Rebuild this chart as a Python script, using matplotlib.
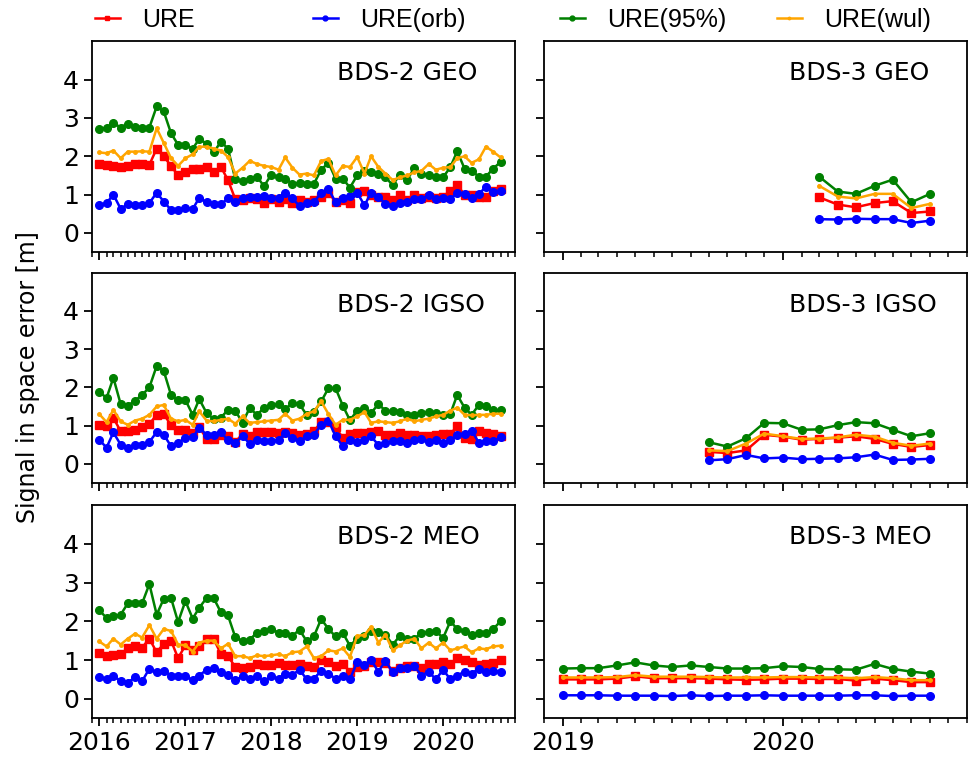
import matplotlib
matplotlib.use("Agg")
import matplotlib.pyplot as plt
import matplotlib.dates as mdates
from matplotlib.lines import Line2D
import pandas as pd

# monthly epochs
months_bds2 = pd.date_range("2016-01-01", "2020-09-01", freq="MS")
months_bds3_geo = pd.date_range("2020-03-01", "2020-09-01", freq="MS")
months_bds3_igso = pd.date_range("2019-09-01", "2020-09-01", freq="MS")
months_bds3_meo = pd.date_range("2019-01-01", "2020-09-01", freq="MS")

# BDS-2 GEO
ure_geo2 = [1.80, 1.77, 1.75, 1.73, 1.75, 1.80, 1.80, 1.78, 2.20, 2.00, 1.75, 1.50,
            1.58, 1.68, 1.68, 1.72, 1.60, 1.72, 1.38, 0.88, 0.85, 0.90, 0.88, 0.78,
            0.88, 0.82, 0.88, 0.78, 0.85, 0.80, 0.85, 0.95, 1.05, 0.82, 0.85, 0.78,
            1.08, 1.10, 0.98, 0.95, 0.95, 0.85, 1.00, 0.85, 0.98, 0.92, 0.95, 0.92,
            0.95, 1.10, 1.25, 1.00, 1.00, 0.95, 0.95, 1.10, 1.15]
orb_geo2 = [0.73, 0.78, 1.00, 0.63, 0.75, 0.72, 0.73, 0.78, 1.05, 0.82, 0.60, 0.60,
            0.65, 0.62, 0.92, 0.80, 0.75, 0.75, 0.90, 0.82, 0.92, 0.95, 0.95, 0.97,
            0.90, 0.92, 1.05, 0.90, 0.70, 0.78, 0.80, 1.05, 1.15, 0.80, 0.92, 0.97,
            1.05, 0.72, 1.05, 0.95, 0.75, 0.70, 0.78, 0.80, 0.88, 0.88, 1.00, 0.88,
            0.92, 0.88, 1.05, 1.02, 0.92, 1.02, 1.20, 1.08, 1.10]
p95_geo2 = [2.72, 2.74, 2.87, 2.75, 2.85, 2.77, 2.73, 2.75, 3.30, 3.17, 2.60, 2.30,
            2.30, 2.20, 2.45, 2.33, 2.10, 2.38, 2.20, 1.40, 1.35, 1.42, 1.47, 1.22,
            1.52, 1.45, 1.42, 1.28, 1.30, 1.28, 1.28, 1.65, 1.83, 1.42, 1.42, 1.18,
            1.50, 1.62, 1.60, 1.55, 1.45, 1.25, 1.52, 1.38, 1.70, 1.55, 1.52, 1.45,
            1.45, 1.72, 2.13, 1.68, 1.62, 1.47, 1.47, 1.68, 1.85]
wul_geo2 = [2.10, 2.08, 2.15, 1.95, 2.12, 2.12, 2.13, 2.12, 2.73, 2.35, 1.95, 1.75,
            1.95, 2.05, 2.25, 2.25, 2.20, 2.15, 1.98, 1.55, 1.70, 1.88, 1.80, 1.75,
            1.72, 1.65, 1.97, 1.70, 1.52, 1.55, 1.50, 1.88, 1.93, 1.50, 1.75, 1.72,
            1.98, 1.55, 2.00, 1.72, 1.55, 1.38, 1.45, 1.50, 1.58, 1.62, 1.80, 1.65,
            1.70, 1.72, 1.95, 2.00, 1.83, 1.92, 2.25, 2.12, 1.97]

# BDS-2 IGSO
ure_igso2 = [1.02, 0.98, 1.20, 0.85, 0.87, 0.89, 0.95, 1.04, 1.28, 1.30, 1.01, 0.89,
             0.89, 0.81, 0.95, 0.66, 0.66, 0.76, 0.72, 0.57, 0.78, 0.72, 0.83, 0.83,
             0.83, 0.81, 0.83, 0.81, 0.76, 0.78, 0.85, 1.09, 1.09, 0.95, 0.68, 0.78,
             0.81, 0.81, 0.83, 0.87, 0.76, 0.76, 0.81, 0.76, 0.76, 0.72, 0.72, 0.75,
             0.78, 0.78, 0.98, 0.68, 0.66, 0.87, 0.81, 0.78, 0.72]
orb_igso2 = [0.63, 0.42, 0.82, 0.50, 0.40, 0.48, 0.50, 0.57, 0.83, 0.76, 0.46, 0.55,
             0.68, 0.69, 0.94, 0.76, 0.74, 0.83, 0.61, 0.55, 0.72, 0.53, 0.62, 0.59,
             0.59, 0.62, 0.81, 0.68, 0.59, 0.72, 0.76, 1.02, 1.13, 0.72, 0.46, 0.61,
             0.57, 0.61, 0.72, 0.49, 0.55, 0.59, 0.59, 0.55, 0.63, 0.66, 0.57, 0.61,
             0.55, 0.61, 0.76, 0.79, 0.87, 0.55, 0.59, 0.59, 0.69]
p95_igso2 = [1.89, 1.72, 2.25, 1.56, 1.52, 1.65, 1.80, 2.00, 2.56, 2.43, 1.80, 1.66,
             1.67, 1.28, 1.69, 1.33, 1.17, 1.21, 1.41, 1.39, 1.07, 1.46, 1.28, 1.46,
             1.53, 1.56, 1.43, 1.59, 1.56, 1.27, 1.35, 1.63, 1.98, 1.98, 1.52, 1.14,
             1.39, 1.47, 1.33, 1.56, 1.39, 1.37, 1.35, 1.27, 1.28, 1.33, 1.35, 1.34,
             1.28, 1.31, 1.80, 1.47, 1.28, 1.54, 1.50, 1.41, 1.40]
wul_igso2 = [1.30, 1.09, 1.41, 1.11, 1.02, 1.13, 1.18, 1.28, 1.50, 1.54, 1.18, 1.11,
             1.15, 1.02, 1.37, 1.13, 1.11, 1.15, 1.18, 1.05, 1.24, 1.07, 1.09, 1.11,
             1.13, 1.15, 1.31, 1.13, 1.18, 1.31, 1.37, 1.63, 1.30, 1.02, 1.15, 1.15,
             1.24, 1.35, 1.07, 1.11, 1.09, 1.07, 1.11, 1.18, 1.11, 1.15, 1.18, 1.24,
             1.28, 1.39, 1.47, 1.28, 1.27, 1.28, 1.28, 1.31, 1.31]

# BDS-2 MEO
ure_meo2 = [1.18, 1.10, 1.12, 1.15, 1.30, 1.35, 1.32, 1.55, 1.20, 1.42, 1.50, 1.05,
            1.38, 1.25, 1.35, 1.55, 1.55, 1.15, 1.10, 0.82, 0.80, 0.82, 0.90, 0.88,
            0.88, 0.92, 0.88, 0.88, 0.90, 0.85, 0.82, 1.00, 0.95, 0.85, 0.90, 0.70,
            0.82, 0.85, 0.95, 0.95, 0.92, 0.72, 0.80, 0.85, 0.85, 0.80, 0.90, 0.90,
            0.95, 0.90, 1.05, 1.00, 0.95, 0.88, 0.90, 0.92, 1.00]
orb_meo2 = [0.55, 0.52, 0.60, 0.45, 0.42, 0.55, 0.45, 0.78, 0.68, 0.72, 0.60, 0.58,
            0.58, 0.48, 0.60, 0.75, 0.80, 0.68, 0.62, 0.48, 0.58, 0.52, 0.58, 0.45,
            0.58, 0.52, 0.65, 0.62, 0.75, 0.50, 0.52, 0.72, 0.65, 0.52, 0.58, 0.50,
            0.95, 0.88, 1.00, 0.70, 0.98, 0.68, 0.80, 0.80, 0.85, 0.60, 0.70, 0.50,
            0.75, 0.50, 0.60, 0.70, 0.65, 0.78, 0.70, 0.72, 0.70]
p95_meo2 = [2.28, 2.09, 2.13, 2.17, 2.46, 2.46, 2.46, 2.96, 2.17, 2.58, 2.60, 1.98,
            2.52, 2.07, 2.35, 2.60, 2.60, 2.23, 2.15, 1.59, 1.48, 1.52, 1.71, 1.74,
            1.80, 1.70, 1.70, 1.63, 1.78, 1.48, 1.61, 2.06, 1.80, 1.61, 1.70, 1.37,
            1.55, 1.62, 1.75, 1.72, 1.65, 1.40, 1.62, 1.55, 1.55, 1.70, 1.72, 1.75,
            1.57, 2.00, 1.80, 1.75, 1.65, 1.70, 1.70, 1.80, 2.00]
wul_meo2 = [1.48, 1.35, 1.55, 1.40, 1.55, 1.68, 1.58, 1.90, 1.55, 1.80, 1.75, 1.40,
            1.38, 1.22, 1.45, 1.50, 1.50, 1.30, 1.42, 1.10, 1.10, 1.05, 1.12, 1.10,
            1.12, 1.15, 1.10, 1.20, 1.22, 1.35, 1.05, 1.10, 1.25, 1.22, 1.30, 1.08,
            1.62, 1.65, 1.85, 1.45, 1.65, 1.25, 1.38, 1.50, 1.55, 1.30, 1.45, 1.30,
            1.45, 1.25, 1.30, 1.35, 1.20, 1.30, 1.28, 1.35, 1.37]

# BDS-3 GEO
ure_geo3 = [0.93, 0.74, 0.67, 0.78, 0.83, 0.52, 0.56]
orb_geo3 = [0.36, 0.35, 0.37, 0.36, 0.36, 0.26, 0.32]
p95_geo3 = [1.47, 1.08, 1.02, 1.23, 1.39, 0.80, 1.02]
wul_geo3 = [1.23, 0.95, 0.90, 1.02, 1.02, 0.65, 0.76]

# BDS-3 IGSO
ure_igso3 = [0.31, 0.28, 0.35, 0.76, 0.71, 0.63, 0.65, 0.68, 0.72, 0.65, 0.52, 0.44, 0.49]
orb_igso3 = [0.09, 0.12, 0.23, 0.14, 0.16, 0.12, 0.13, 0.14, 0.17, 0.24, 0.10, 0.11, 0.13]
p95_igso3 = [0.56, 0.45, 0.67, 1.07, 1.06, 0.89, 0.90, 1.01, 1.09, 1.06, 0.89, 0.72, 0.80]
wul_igso3 = [0.35, 0.33, 0.53, 0.79, 0.72, 0.65, 0.66, 0.69, 0.76, 0.71, 0.55, 0.47, 0.53]

# BDS-3 MEO
ure_meo3 = [0.50, 0.50, 0.50, 0.52, 0.58, 0.53, 0.53, 0.53, 0.52, 0.50, 0.49,
            0.50, 0.52, 0.52, 0.51, 0.51, 0.47, 0.52, 0.48, 0.43, 0.43]
orb_meo3 = [0.09, 0.09, 0.09, 0.08, 0.08, 0.08, 0.07, 0.09, 0.07, 0.08, 0.08,
            0.09, 0.08, 0.08, 0.08, 0.08, 0.09, 0.09, 0.07, 0.08, 0.08]
p95_meo3 = [0.78, 0.79, 0.79, 0.86, 0.94, 0.86, 0.82, 0.86, 0.82, 0.78, 0.78,
            0.79, 0.84, 0.82, 0.77, 0.76, 0.75, 0.90, 0.77, 0.70, 0.65]
wul_meo3 = [0.55, 0.55, 0.55, 0.56, 0.61, 0.57, 0.57, 0.57, 0.56, 0.55, 0.55,
            0.55, 0.56, 0.56, 0.55, 0.55, 0.53, 0.56, 0.53, 0.48, 0.48]

labels = ["URE", "URE(orb)", "URE(95%)", "URE(wul)"]
colors = ["red", "blue", "green", "orange"]
markers = ["s", "o", "o", "."]
msizes = [5.5, 5.5, 5.5, 5]

panels = [
    ("BDS-2 GEO", months_bds2, [ure_geo2, orb_geo2, p95_geo2, wul_geo2]),
    ("BDS-3 GEO", months_bds3_geo, [ure_geo3, orb_geo3, p95_geo3, wul_geo3]),
    ("BDS-2 IGSO", months_bds2, [ure_igso2, orb_igso2, p95_igso2, wul_igso2]),
    ("BDS-3 IGSO", months_bds3_igso, [ure_igso3, orb_igso3, p95_igso3, wul_igso3]),
    ("BDS-2 MEO", months_bds2, [ure_meo2, orb_meo2, p95_meo2, wul_meo2]),
    ("BDS-3 MEO", months_bds3_meo, [ure_meo3, orb_meo3, p95_meo3, wul_meo3]),
]

plt.rcParams["font.family"] = "DejaVu Sans"
fig = plt.figure(figsize=(9.7, 7.64), dpi=100)

col_x = [0.0948, 0.5608]
col_w = 0.436
row_y = [0.670, 0.368, 0.060]
row_h = [0.276, 0.275, 0.279]

for k, (name, months, series) in enumerate(panels):
    row, col = divmod(k, 2)
    ax = fig.add_axes([col_x[col], row_y[row], col_w, row_h[row]])
    for vals, c, m, ms in zip(series, colors, markers, msizes):
        ax.plot(months, vals, color=c, marker=m, markersize=ms, linewidth=1.8)
    ax.set_ylim(-0.5, 5.0)
    ax.set_yticks([0, 1, 2, 3, 4])
    if col == 0:
        ax.set_xlim(pd.Timestamp("2015-12-01"), pd.Timestamp("2020-11-01"))
    else:
        ax.set_xlim(pd.Timestamp("2018-12-01"), pd.Timestamp("2020-11-01"))
    ax.xaxis.set_major_locator(mdates.YearLocator())
    ax.xaxis.set_major_formatter(mdates.DateFormatter("%Y"))
    ax.xaxis.set_minor_locator(mdates.MonthLocator())
    ax.tick_params(which="major", length=6, width=1.3, labelsize=18)
    ax.tick_params(which="minor", length=3.5, width=1.1)
    if col == 1:
        ax.tick_params(labelleft=False)
    if row < 2:
        ax.tick_params(labelbottom=False)
    for sp in ax.spines.values():
        sp.set_linewidth(1.3)
    ax.text(0.58, 0.815, name, transform=ax.transAxes, fontsize=18,
            ha="left", va="baseline")

fig.text(0.029, 0.507, "Signal in space error [m]", rotation=90,
         ha="center", va="center", fontsize=17)

handles = [Line2D([], [], color=c, marker=m, markersize=3.5, linewidth=1.8)
           for c, m in zip(colors, markers)]
leg_kw = dict(frameon=False, ncol=2, loc="upper left", borderpad=0,
              borderaxespad=0, handlelength=1.0, handletextpad=0.9,
              prop={"family": ["Liberation Sans", "DejaVu Sans"], "size": 18})
fig.legend(handles[:2], labels[:2], bbox_to_anchor=(95 / 970, 1 - 8 / 764),
           columnspacing=4.7, **leg_kw)
fig.legend(handles[2:], labels[2:], bbox_to_anchor=(560 / 970, 1 - 8 / 764),
           columnspacing=2.0, **leg_kw)

fig.savefig("out.png", dpi=100)
